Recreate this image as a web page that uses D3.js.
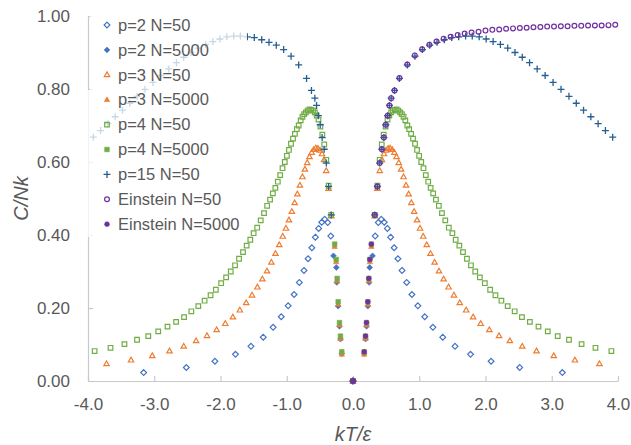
<!DOCTYPE html>
<html>
<head>
<meta charset="utf-8">
<script src="https://cdn.jsdelivr.net/npm/d3@7"></script>
<style>
  body { margin: 0; background: #fff; }
  svg { font-family: "Liberation Sans", Arial, sans-serif; }
</style>
</head>
<body>
<svg id="chart" width="631" height="445"></svg>
<script>
// ticks
var xTicks = [-4, -3, -2, -1, 0, 1, 2, 3, 4];
var yTicks = [0, 0.2, 0.4, 0.6, 0.8, 1.0];

// p=2, N=50  (kT/eps and C/Nk)
var p2N50_T = [-3.160,-2.516,-2.084,-1.774,-1.540,-1.355,-1.206,-1.083,-0.979,-0.889,-0.810,-0.740,-0.678,-0.621,-0.568,-0.519,-0.472,-0.427,-0.382,-0.335,
  0, 0.335,0.382,0.427,0.472,0.519,0.568,0.621,0.678,0.740,0.810,0.889,0.979,1.083,1.206,1.355,1.540,1.774,2.084,2.516,3.160];
var p2N50_C = [0.023,0.037,0.054,0.073,0.095,0.120,0.147,0.176,0.206,0.237,0.270,0.303,0.335,0.365,0.394,0.418,0.435,0.443,0.434,0.397,
  0, 0.397,0.434,0.443,0.435,0.418,0.394,0.365,0.335,0.303,0.270,0.237,0.206,0.176,0.147,0.120,0.095,0.073,0.054,0.037,0.023];

// p=2, N=5000
var p2N5000_T = [-0.295,-0.252,-0.244,-0.224,-0.204,-0.189,-0.169, 0, 0.169,0.189,0.204,0.224,0.244,0.252,0.295];
var p2N5000_C = [0.343,0.311,0.270,0.205,0.150,0.115,0.075, 0, 0.075,0.115,0.150,0.205,0.270,0.311,0.343];

// p=3, N=50
var p3N50_T = [-3.720,-3.350,-3.030,-2.770,-2.555,-2.368,-2.204,-2.058,-1.928,-1.813,-1.708,-1.612,-1.524,-1.443,-1.368,-1.298,-1.232,-1.170,-1.113,-1.060,-1.012,
  -0.967,-0.923,-0.881,-0.840,-0.801,-0.763,-0.726,-0.691,-0.657,-0.624,-0.592,-0.561,-0.530,-0.499,-0.468,-0.437,-0.404,-0.369,-0.329,
  0, 0.329,0.369,0.404,0.437,0.468,0.499,0.530,0.561,0.592,0.624,0.657,0.691,0.726,0.763,0.801,0.840,0.881,0.923,0.967,
  1.012,1.060,1.113,1.170,1.232,1.298,1.368,1.443,1.524,1.612,1.708,1.813,1.928,2.058,2.204,2.368,2.555,2.770,3.030,3.350,3.720];
var p3N50_C = [0.047,0.057,0.069,0.082,0.095,0.110,0.124,0.140,0.157,0.175,0.194,0.214,0.235,0.257,0.279,0.301,0.325,0.349,0.373,0.396,0.418,
  0.441,0.464,0.488,0.512,0.536,0.559,0.580,0.598,0.614,0.626,0.634,0.638,0.637,0.632,0.622,0.606,0.576,0.527,0.452,
  0, 0.452,0.527,0.576,0.606,0.622,0.632,0.637,0.638,0.634,0.626,0.614,0.598,0.580,0.559,0.536,0.512,0.488,0.464,0.441,
  0.418,0.396,0.373,0.349,0.325,0.301,0.279,0.257,0.235,0.214,0.194,0.175,0.157,0.140,0.124,0.110,0.095,0.082,0.069,0.057,0.047];

// p=3, N=5000
var p3N5000_T = [-0.277,-0.254,-0.239,-0.224,-0.204,-0.189,-0.169, 0, 0.169,0.189,0.204,0.224,0.239,0.254,0.277];
var p3N5000_C = [0.368,0.326,0.274,0.210,0.153,0.116,0.073, 0, 0.073,0.116,0.153,0.210,0.274,0.326,0.368];

// p=4, N=50
var p4N50_T = [-3.900,-3.660,-3.450,-3.260,-3.090,-2.940,-2.800,-2.670,-2.550,-2.440,-2.335,-2.240,-2.150,-2.070,-1.990,-1.915,-1.845,-1.780,-1.720,-1.660,
  -1.605,-1.550,-1.500,-1.446,-1.393,-1.343,-1.296,-1.252,-1.210,-1.172,-1.135,-1.099,-1.064,-1.030,-0.998,-0.967,-0.936,-0.906,-0.877,-0.848,
  -0.820,-0.790,-0.763,-0.737,-0.711,-0.684,-0.657,-0.630,-0.603,-0.576,-0.548,-0.521,-0.492,-0.463,-0.434,-0.403,-0.368,-0.328,
  0, 0.328,0.368,0.403,0.434,0.463,0.492,0.521,0.548,0.576,0.603,0.630,0.657,0.684,0.711,0.737,0.763,0.790,0.820,
  0.848,0.877,0.906,0.936,0.967,0.998,1.030,1.064,1.099,1.135,1.172,1.210,1.252,1.296,1.343,1.393,1.446,1.500,1.550,1.605,
  1.660,1.720,1.780,1.845,1.915,1.990,2.070,2.150,2.240,2.335,2.440,2.550,2.670,2.800,2.940,3.090,3.260,3.450,3.660,3.900];
var p4N50_C = [0.082,0.091,0.101,0.113,0.123,0.136,0.149,0.162,0.175,0.191,0.205,0.220,0.235,0.250,0.268,0.284,0.300,0.317,0.335,0.353,
  0.371,0.387,0.405,0.420,0.440,0.460,0.480,0.497,0.514,0.529,0.546,0.564,0.583,0.600,0.617,0.633,0.650,0.664,0.677,0.690,
  0.700,0.714,0.724,0.731,0.736,0.741,0.744,0.743,0.741,0.736,0.727,0.716,0.697,0.675,0.648,0.606,0.535,0.455,
  0, 0.455,0.535,0.606,0.648,0.675,0.697,0.716,0.727,0.736,0.741,0.743,0.744,0.741,0.736,0.731,0.724,0.714,0.700,
  0.690,0.677,0.664,0.650,0.633,0.617,0.600,0.583,0.564,0.546,0.529,0.514,0.497,0.480,0.460,0.440,0.420,0.405,0.387,0.371,
  0.353,0.335,0.317,0.300,0.284,0.268,0.250,0.235,0.220,0.205,0.191,0.175,0.162,0.149,0.136,0.123,0.113,0.101,0.091,0.082];

// p=4, N=5000
var p4N5000_T = [-0.277,-0.254,-0.239,-0.224,-0.204,-0.189,-0.169, 0, 0.169,0.189,0.204,0.224,0.239,0.254,0.277];
var p4N5000_C = [0.375,0.333,0.281,0.217,0.160,0.123,0.080, 0, 0.080,0.123,0.160,0.217,0.281,0.333,0.375];

// p=15, N=50
var p15N50_T = [-3.920,-3.810,-3.700,-3.590,-3.480,-3.370,-3.260,-3.140,-3.020,-2.900,-2.780,-2.665,-2.555,-2.445,-2.335,-2.225,-2.115,-2.010,-1.905,-1.800,
  -1.700,-1.595,-1.490,-1.378,-1.268,-1.158,-1.047,-0.935,-0.820,-0.701,-0.627,-0.576,-0.550,-0.523,-0.495,-0.466,-0.435,-0.403,-0.368,-0.328,
  0, 0.328,0.368,0.403,0.435,0.466,0.495,0.523,0.550,0.576,0.627,0.701,0.820,0.935,1.047,1.158,1.268,1.378,1.490,1.595,
  1.700,1.800,1.905,2.010,2.115,2.225,2.335,2.445,2.555,2.665,2.780,2.900,3.020,3.140,3.260,3.370,3.480,3.590,3.700,3.810,3.920];
var p15N50_C = [0.668,0.686,0.705,0.724,0.742,0.761,0.780,0.799,0.818,0.837,0.855,0.872,0.887,0.900,0.912,0.922,0.930,0.937,0.943,0.945,
  0.945,0.943,0.941,0.935,0.928,0.920,0.908,0.890,0.866,0.829,0.796,0.775,0.755,0.727,0.702,0.667,0.635,0.597,0.533,0.455,
  0, 0.455,0.533,0.597,0.635,0.667,0.702,0.727,0.755,0.775,0.796,0.829,0.866,0.890,0.908,0.920,0.928,0.935,0.941,0.943,
  0.945,0.945,0.943,0.937,0.930,0.922,0.912,0.900,0.887,0.872,0.855,0.837,0.818,0.799,0.780,0.761,0.742,0.724,0.705,0.686,0.668];

// Einstein solid, N=50 (positive T only)
var einN50_T = [0, 0.328,0.368,0.403,0.435,0.466,0.495,0.523,0.550,0.576,0.627,0.701,0.819,0.933,1.044,1.153,1.261,1.368,1.474,1.580,1.685,
  1.790,1.895,1.999,2.103,2.207,2.311,2.415,2.518,2.621,2.724,2.828,2.931,3.034,3.137,3.239,3.342,3.445,3.548,3.651,3.753,3.856,3.958];
var einN50_C = [0, 0.455,0.533,0.597,0.635,0.667,0.702,0.727,0.755,0.775,0.796,0.830,0.867,0.892,0.909,0.921,0.930,0.938,0.943,0.948,0.952,
  0.955,0.957,0.960,0.962,0.963,0.965,0.966,0.967,0.968,0.969,0.970,0.971,0.971,0.972,0.972,0.973,0.973,0.974,0.974,0.974,0.975,0.976];

// Einstein solid, N=5000
var einN5000_T = [0, 0.169,0.189,0.204,0.224,0.239,0.254,0.277];
var einN5000_C = [0, 0.080,0.123,0.160,0.217,0.281,0.333,0.375];

var series = [
  { name: "p=2 N=50", T: p2N50_T, C: p2N50_C, shape: "diamond", color: "#4472C4", filled: false },
  { name: "p=2 N=5000", T: p2N5000_T, C: p2N5000_C, shape: "diamond", color: "#4472C4", filled: true },
  { name: "p=3 N=50", T: p3N50_T, C: p3N50_C, shape: "triangle", color: "#ED7D31", filled: false },
  { name: "p=3 N=5000", T: p3N5000_T, C: p3N5000_C, shape: "triangle", color: "#ED7D31", filled: true },
  { name: "p=4 N=50", T: p4N50_T, C: p4N50_C, shape: "square", color: "#70AD47", filled: false },
  { name: "p=4 N=5000", T: p4N5000_T, C: p4N5000_C, shape: "square", color: "#70AD47", filled: true },
  { name: "p=15 N=50", T: p15N50_T, C: p15N50_C, shape: "plus", color: "#255E91", filled: false },
  { name: "Einstein N=50", T: einN50_T, C: einN50_C, shape: "circle", color: "#7030A0", filled: false },
  { name: "Einstein N=5000", T: einN5000_T, C: einN5000_C, shape: "circle", color: "#7030A0", filled: true }
];

var textColor = "#595959";
var axisColor = "#C9C9C9";

var svg = d3.select("#chart");

var xScale = d3.scaleLinear().domain([-4, 4]).range([88, 618]);
var yScale = d3.scaleLinear().domain([0, 1]).range([381, 16]);

// marker outlines, centred on 0,0
function markerPath(shape) {
  if (shape == "diamond") return "M0,-2.9L2.9,0L0,2.9L-2.9,0Z";
  if (shape == "square") return "M-2.3,-2.3H2.3V2.3H-2.3Z";
  if (shape == "triangle") return "M0,-2.9L2.7,1.8L-2.7,1.8Z";
  if (shape == "circle") return "M2.4,0A2.4,2.4 0 1 1 -2.4,0A2.4,2.4 0 1 1 2.4,0Z";
  return "M-3.5,0H3.5M0,-3.5V3.5";
}

function styleMarker(sel, s) {
  if (s.shape == "plus") {
    sel.attr("fill", "none").attr("stroke", s.color).attr("stroke-width", 1.3);
  } else if (s.filled) {
    sel.attr("fill", s.color).attr("stroke", s.color).attr("stroke-width", 0.6);
  } else {
    sel.attr("fill", "none").attr("stroke", s.color).attr("stroke-width", 1.2);
  }
}

// axes
var xAxis = d3.axisBottom(xScale)
  .tickValues(xTicks)
  .tickFormat(function(d) { return d.toFixed(1); })
  .tickSizeInner(-5)
  .tickSizeOuter(0)
  .tickPadding(17);

var yAxis = d3.axisLeft(yScale)
  .tickValues(yTicks)
  .tickFormat(function(d) { return d.toFixed(2); })
  .tickSizeInner(-5)
  .tickSizeOuter(0)
  .tickPadding(18);

var gx = svg.append("g")
  .attr("transform", "translate(0," + yScale(0) + ")")
  .call(xAxis);

var gy = svg.append("g")
  .attr("transform", "translate(" + xScale(-4) + ",0)")
  .call(yAxis);

[gx, gy].forEach(function(g) {
  g.attr("font-family", null).attr("font-size", null);
  g.select(".domain").attr("stroke", axisColor).attr("stroke-width", 1.2);
  g.selectAll(".tick line").attr("stroke", axisColor).attr("stroke-width", 1.2);
  g.selectAll(".tick text").attr("fill", textColor).style("font-size", "17px");
});

// points
series.forEach(function(s) {
  var pts = s.T.map(function(t, i) { return { t: t, c: s.C[i] }; });
  svg.append("g")
    .selectAll("path")
    .data(pts)
    .enter()
    .append("path")
    .attr("d", markerPath(s.shape))
    .attr("transform", function(d) {
      return "translate(" + xScale(d.t) + "," + yScale(d.c) + ")";
    })
    .call(styleMarker, s);
});

// legend box is semi transparent, so the points under it look faded
svg.append("path")
  .attr("d", "M90,12H247V237H86V90H90Z")
  .attr("fill", "#fff")
  .attr("fill-opacity", 0.75);

var legend = svg.append("g");
series.forEach(function(s, i) {
  var row = legend.append("g")
    .attr("transform", "translate(107," + (25 + i * 24.9) + ")");
  row.append("path")
    .attr("d", markerPath(s.shape))
    .call(styleMarker, s);
  row.append("text")
    .attr("x", 11)
    .attr("dy", "0.35em")
    .attr("fill", textColor)
    .style("font-size", "16.5px")
    .text(s.name);
});

// axis titles
svg.append("text")
  .attr("transform", "translate(28," + yScale(0.5) + ") rotate(-90)")
  .attr("text-anchor", "middle")
  .attr("fill", textColor)
  .style("font-size", "20px")
  .style("font-style", "italic")
  .text("C/Nk");

svg.append("text")
  .attr("x", xScale(0))
  .attr("y", 441)
  .attr("text-anchor", "middle")
  .attr("fill", textColor)
  .style("font-size", "20px")
  .style("font-style", "italic")
  .text("kT/ε");
</script>
</body>
</html>
